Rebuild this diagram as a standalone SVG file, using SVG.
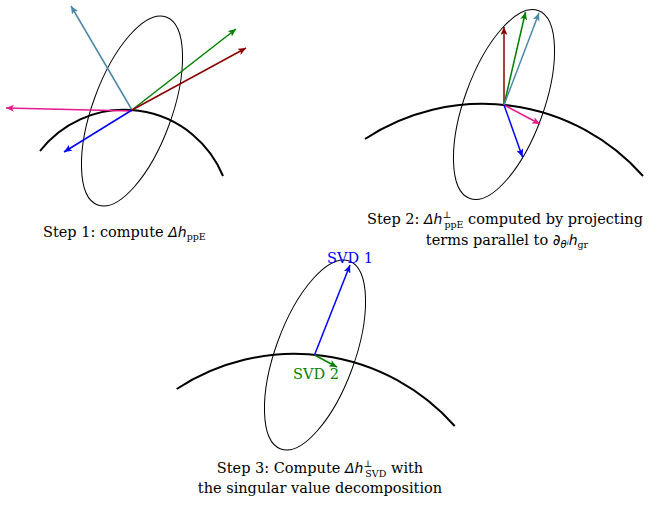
<svg xmlns="http://www.w3.org/2000/svg" width="652" height="508" viewBox="0 0 652 508">
<style>
.ell{fill:none;stroke:#000;stroke-width:1}
.crv{fill:none;stroke:#000;stroke-width:2}
.a{fill:none;stroke-width:1.5}
.cap{font-family:"DejaVu Serif","Liberation Serif",serif;font-size:14.5px;fill:#000}
.lbl{font-family:"DejaVu Serif","Liberation Serif",serif;font-size:14.5px}
.m{font-family:"DejaVu Sans",sans-serif;font-style:oblique;font-size:14px}
.s{font-size:9.5px}
</style>
<defs>
<marker id="mTeal" markerUnits="userSpaceOnUse" markerWidth="9" markerHeight="7" refX="8" refY="3.5" orient="auto"><path d="M0,0 L8,3.5 L0,7 L2,3.5 z" fill="#4a87a6"/></marker>
<marker id="mGreen" markerUnits="userSpaceOnUse" markerWidth="9" markerHeight="7" refX="8" refY="3.5" orient="auto"><path d="M0,0 L8,3.5 L0,7 L2,3.5 z" fill="#008000"/></marker>
<marker id="mRed" markerUnits="userSpaceOnUse" markerWidth="9" markerHeight="7" refX="8" refY="3.5" orient="auto"><path d="M0,0 L8,3.5 L0,7 L2,3.5 z" fill="#8b0000"/></marker>
<marker id="mPink" markerUnits="userSpaceOnUse" markerWidth="9" markerHeight="7" refX="8" refY="3.5" orient="auto"><path d="M0,0 L8,3.5 L0,7 L2,3.5 z" fill="#e8198b"/></marker>
<marker id="mBlue" markerUnits="userSpaceOnUse" markerWidth="9" markerHeight="7" refX="8" refY="3.5" orient="auto"><path d="M0,0 L8,3.5 L0,7 L2,3.5 z" fill="#0000ff"/></marker>
</defs>

<g id="panel1">
<ellipse class="ell" cx="0" cy="0" rx="39.6" ry="100" transform="translate(132,111) rotate(20)"/>
<path class="crv" d="M40,151 A106.8,106.8 0 0 1 223,176"/>
</g>
<g id="panel2">
<ellipse class="ell" cx="0" cy="0" rx="39.6" ry="100" transform="translate(504,104.5) rotate(20)"/>
<path class="crv" d="M365,139 A214.4,214.4 0 0 1 643,176"/>
</g>
<g id="panel3">
<ellipse class="ell" cx="0" cy="0" rx="39.6" ry="100" transform="translate(315,355) rotate(20)"/>
<path class="crv" d="M176.7,389 A214.4,214.4 0 0 1 454.7,426"/>
</g>

<g id="connectors">
<line class="a" x1="132" y1="110" x2="71" y2="6" stroke="#4a87a6" marker-end="url(#mTeal)"/>
<line class="a" x1="132" y1="110" x2="236" y2="29" stroke="#008000" marker-end="url(#mGreen)"/>
<line class="a" x1="132" y1="110" x2="246" y2="48" stroke="#8b0000" marker-end="url(#mRed)"/>
<line class="a" x1="132" y1="111" x2="6" y2="108" stroke="#e8198b" marker-end="url(#mPink)"/>
<line class="a" x1="132" y1="110" x2="64" y2="152" stroke="#0000ff" marker-end="url(#mBlue)"/>

<line class="a" x1="504" y1="105" x2="504" y2="27" stroke="#8b0000" marker-end="url(#mRed)"/>
<line class="a" x1="504" y1="105" x2="525.5" y2="12" stroke="#008000" marker-end="url(#mGreen)"/>
<line class="a" x1="504" y1="105" x2="539" y2="13" stroke="#4a87a6" marker-end="url(#mTeal)"/>
<line class="a" x1="504" y1="105" x2="540" y2="124" stroke="#e8198b" marker-end="url(#mPink)"/>
<line class="a" x1="504" y1="105" x2="522.5" y2="157" stroke="#0000ff" marker-end="url(#mBlue)"/>

<line class="a" x1="314.5" y1="355" x2="350" y2="265" stroke="#0000ff" marker-end="url(#mBlue)"/>
<line class="a" x1="314.5" y1="355" x2="337" y2="367" stroke="#008000" marker-end="url(#mGreen)"/>
</g>

<g id="labels">
<text class="lbl" x="350" y="263" text-anchor="middle" fill="#0000ff">SVD 1</text>
<text class="lbl" x="316" y="379" text-anchor="middle" fill="#008000">SVD 2</text>
</g>

<g id="caption1">
<text class="cap" x="43" y="237">Step 1: compute <tspan class="m">Δh</tspan><tspan class="s" dy="3">ppE</tspan></text>
</g>
<g id="caption2">
<text class="cap" x="505" y="224" text-anchor="middle">Step 2: <tspan class="m">Δh</tspan><tspan class="s" dy="-6">⊥</tspan><tspan class="s" dx="-7" dy="10">ppE</tspan><tspan dy="-4"> computed by projecting</tspan></text>
<text class="cap" x="507" y="245" text-anchor="middle">terms parallel to <tspan class="m" style="font-size:15px">∂</tspan><tspan class="m" style="font-size:10px" dy="3">θ</tspan><tspan class="m" style="font-size:7px" dy="-3">i</tspan><tspan class="m" dy="0">h</tspan><tspan class="s" dy="3">gr</tspan></text>
</g>
<g id="caption3">
<text class="cap" x="320" y="473" text-anchor="middle">Step 3: Compute <tspan class="m">Δh</tspan><tspan class="s" dy="-6">⊥</tspan><tspan class="s" dx="-7" dy="10">SVD</tspan><tspan dy="-4"> with</tspan></text>
<text class="cap" x="320" y="493" text-anchor="middle">the singular value decomposition</text>
</g>
</svg>
